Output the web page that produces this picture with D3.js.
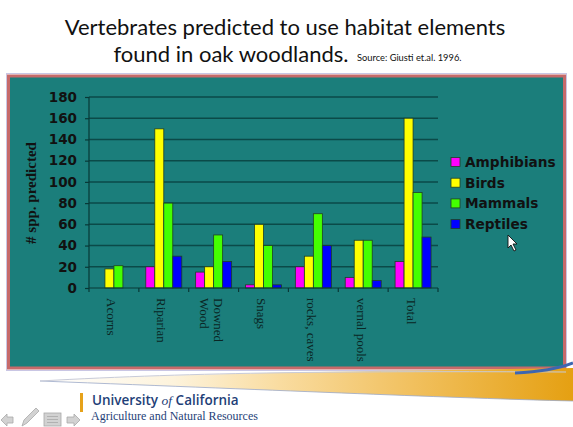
<!DOCTYPE html>
<html>
<head>
<meta charset="utf-8">
<script src="https://cdn.jsdelivr.net/npm/d3@7"></script>
<style>
  html, body { margin: 0; padding: 0; background: #fff; }
  svg { display: block; }
</style>
</head>
<body>
<div id="chart"></div>
<script>
(function(){
    var categories = ["Acorns", "Riparian", "Downed Wood", "Snags", "rocks, caves", "vernal pools", "Total"];
    var series = ["Amphibians", "Birds", "Mammals", "Reptiles"];
    var amphibians = [0, 20, 15, 3, 20, 10, 25];
    var birds = [18, 150, 20, 60, 30, 45, 160];
    var mammals = [21, 80, 50, 40, 70, 45, 90];
    var reptiles = [0, 30, 25, 3, 40, 7, 48];
    var yTicks = [0, 20, 40, 60, 80, 100, 120, 140, 160, 180];

    var colors = {
        "Amphibians": "#ff00ff",
        "Birds": "#ffff00",
        "Mammals": "#44ff00",
        "Reptiles": "#0000ff"
    };
    var values = {
        "Amphibians": amphibians,
        "Birds": birds,
        "Mammals": mammals,
        "Reptiles": reptiles
    };

    var W = 573, H = 427;
    var plot = {left: 89, right: 438, top: 97, bottom: 288};

    var svg = d3.select("#chart").append("svg")
        .attr("width", W)
        .attr("height", H);

    // slide title
    var title = svg.append("g")
        .attr("font-family", "Lato, 'Open Sans', sans-serif")
        .attr("fill", "#111");
    title.append("text")
        .attr("x", 285).attr("y", 35)
        .attr("text-anchor", "middle")
        .attr("font-size", 22)
        .text("Vertebrates predicted to use habitat elements");
    title.append("text")
        .attr("x", 231).attr("y", 62)
        .attr("text-anchor", "middle")
        .attr("font-size", 22)
        .text("found in oak woodlands.");
    title.append("text")
        .attr("x", 357).attr("y", 61)
        .attr("font-size", 9.3)
        .text("Source: Giusti et.al. 1996.");

    // chart panel
    svg.append("rect")
        .attr("x", 6.5).attr("y", 73.5)
        .attr("width", 560).attr("height", 297)
        .attr("fill", "none")
        .attr("stroke", "#c9c6e4");
    svg.append("rect")
        .attr("x", 8.5).attr("y", 76)
        .attr("width", 556).attr("height", 292)
        .attr("fill", "#1b7e7b")
        .attr("stroke", "#c66a6a")
        .attr("stroke-width", 3);

    var x = d3.scaleBand()
        .domain(categories)
        .range([plot.left, plot.right])
        .paddingInner(0)
        .paddingOuter(0);

    var xs = d3.scaleBand()
        .domain(series)
        .range([0, x.bandwidth()])
        .paddingInner(0)
        .paddingOuter(0.77);

    var y = d3.scaleLinear()
        .domain([0, 180])
        .range([plot.bottom, plot.top]);

    // gridlines
    svg.append("g")
        .selectAll("line")
        .data(yTicks.slice(1))
        .enter().append("line")
        .attr("x1", plot.left).attr("x2", plot.right)
        .attr("y1", function(d){ return y(d); })
        .attr("y2", function(d){ return y(d); })
        .attr("stroke", "#0b4a48")
        .attr("stroke-width", 1.5);

    // bars
    var group = svg.append("g").selectAll("g")
        .data(categories)
        .enter().append("g")
        .attr("transform", function(d){ return "translate(" + x(d) + ",0)"; });

    group.selectAll("rect")
        .data(function(d, i){
            return series.map(function(s){ return {key: s, value: values[s][i]}; });
        })
        .enter().append("rect")
        .filter(function(d){ return d.value > 0; })
        .attr("x", function(d){ return xs(d.key); })
        .attr("y", function(d){ return y(d.value); })
        .attr("width", xs.bandwidth())
        .attr("height", function(d){ return y(0) - y(d.value); })
        .attr("fill", function(d){ return colors[d.key]; })
        .attr("stroke", "#1f3f25")
        .attr("stroke-width", 0.8);

    // y axis
    var yAxis = d3.axisLeft(y)
        .tickValues(yTicks)
        .tickSize(4)
        .tickPadding(8);
    var yg = svg.append("g")
        .attr("transform", "translate(" + plot.left + ",0)")
        .call(yAxis);
    yg.selectAll("path, line").attr("stroke", "#083836").attr("stroke-width", 1.2);
    yg.select(".domain").attr("d", "M0," + plot.top + "V" + plot.bottom);
    yg.selectAll("text")
        .attr("font-family", "'DejaVu Sans', Verdana, sans-serif")
        .attr("font-weight", "bold")
        .attr("font-size", 13.5)
        .attr("fill", "#111");

    // x axis: ticks at category boundaries
    var xg = svg.append("g");
    xg.append("line")
        .attr("x1", plot.left).attr("x2", plot.right)
        .attr("y1", plot.bottom).attr("y2", plot.bottom)
        .attr("stroke", "#083836").attr("stroke-width", 1.2);
    xg.selectAll(".tick")
        .data(categories.concat([null]))
        .enter().append("line")
        .attr("x1", function(d){ return d === null ? plot.right : x(d); })
        .attr("x2", function(d){ return d === null ? plot.right : x(d); })
        .attr("y1", plot.bottom).attr("y2", plot.bottom + 4)
        .attr("stroke", "#083836").attr("stroke-width", 1.2);

    var labelWraps = {"Downed Wood": ["Downed", "Wood"]};
    var xl = xg.selectAll(".xlabel")
        .data(categories)
        .enter().append("text")
        .attr("transform", function(d){
            return "translate(" + (x(d) + x.bandwidth() / 2 - 2) + "," + (plot.bottom + 10) + ") rotate(90)";
        })
        .attr("font-family", "'Liberation Serif', 'Times New Roman', serif")
        .attr("font-size", 13)
        .attr("fill", "#0a2624");
    xl.each(function(d){
        var lines = labelWraps[d] || [d];
        var t = d3.select(this);
        lines.forEach(function(line, i){
            var off = (i - (lines.length - 1) / 2) * 14;
            t.append("tspan")
                .attr("x", 0)
                .attr("y", off)
                .attr("dy", "0.35em")
                .text(line);
        });
    });

    // y title
    svg.append("text")
        .attr("transform", "translate(36,193) rotate(-90)")
        .attr("text-anchor", "middle")
        .attr("font-family", "'Liberation Serif', 'Times New Roman', serif")
        .attr("font-weight", "bold")
        .attr("font-size", 15)
        .attr("fill", "#111")
        .text("# spp. predicted");

    // legend
    var legend = svg.append("g")
        .attr("transform", "translate(451,162)");
    var item = legend.selectAll("g")
        .data(series)
        .enter().append("g")
        .attr("transform", function(d, i){ return "translate(0," + (i * 20.7) + ")"; });
    item.append("rect")
        .attr("x", 0).attr("y", -4.5)
        .attr("width", 9).attr("height", 9)
        .attr("fill", function(d){ return colors[d]; })
        .attr("stroke", "#1f3f25")
        .attr("stroke-width", 0.8);
    item.append("text")
        .attr("x", 14).attr("y", 0)
        .attr("dy", "0.36em")
        .attr("font-family", "'DejaVu Sans', Verdana, sans-serif")
        .attr("font-weight", "bold")
        .attr("font-size", 13.7)
        .attr("fill", "#111")
        .text(function(d){ return d; });

    // mouse pointer
    svg.append("path")
        .attr("transform", "translate(508,235)")
        .attr("d", "M0,0 L0,13 L3,10 L6,16 L8,15 L5,9 L9,9 Z")
        .attr("fill", "#fff")
        .attr("stroke", "#111")
        .attr("stroke-width", 0.9);

    // footer swoosh
    var defs = svg.append("defs");
    var grad = defs.append("linearGradient")
        .attr("id", "swoosh")
        .attr("x1", "0%").attr("x2", "100%");
    grad.append("stop").attr("offset", "0%").attr("stop-color", "#ffffff");
    grad.append("stop").attr("offset", "25%").attr("stop-color", "#fdf3dc");
    grad.append("stop").attr("offset", "45%").attr("stop-color", "#f9dca0");
    grad.append("stop").attr("offset", "70%").attr("stop-color", "#f1c05e");
    grad.append("stop").attr("offset", "100%").attr("stop-color", "#e5a012");

    svg.append("path")
        .attr("d", "M40,381 C200,372 400,371 573,368 L573,401 C450,398 300,391 40,381 Z")
        .attr("fill", "url(#swoosh)");
    svg.append("path")
        .attr("d", "M40,381 C300,391 450,398 573,401")
        .attr("fill", "none")
        .attr("stroke", "#9aa8c8")
        .attr("stroke-width", 0.8);
    svg.append("path")
        .attr("d", "M40,381 C200,372 350,371 566,372")
        .attr("fill", "none")
        .attr("stroke", "#c8cbd8")
        .attr("stroke-width", 1);
    svg.append("path")
        .attr("d", "M515,373 C540,372 558,369 573,363")
        .attr("fill", "none")
        .attr("stroke", "#3d66b0")
        .attr("stroke-width", 3);

    // UC logo
    svg.append("rect")
        .attr("x", 80).attr("y", 393)
        .attr("width", 3).attr("height", 19)
        .attr("fill", "#e6a21a");
    var uc = svg.append("text")
        .attr("x", 92).attr("y", 405)
        .attr("font-family", "'Open Sans', sans-serif")
        .attr("font-weight", 600)
        .attr("font-size", 13.5)
        .attr("fill", "#1f3f78");
    uc.append("tspan").text("University ");
    uc.append("tspan")
        .attr("font-family", "'Liberation Serif', serif")
        .attr("font-style", "italic")
        .attr("font-weight", "normal")
        .text("of");
    uc.append("tspan").text(" California");
    svg.append("text")
        .attr("x", 91).attr("y", 420)
        .attr("font-family", "'Liberation Serif', serif")
        .attr("font-size", 12)
        .attr("fill", "#1f3f78")
        .text("Agriculture and Natural Resources");

    // slide navigation icons
    var nav = svg.append("g")
        .attr("fill", "#d2d2d2")
        .attr("stroke", "#a8a8a8")
        .attr("stroke-width", 0.8);
    nav.append("path").attr("d", "M1,420 L7,414 L7,417 L13,417 L13,423 L7,423 L7,426 Z");
    nav.append("path").attr("d", "M22,426 L24,420 L36,408 L39,411 L27,423 Z");
    nav.append("rect").attr("x", 44).attr("y", 413).attr("width", 17).attr("height", 13);
    nav.selectAll(".ln").data([416.5, 419.5, 422.5]).enter().append("line")
        .attr("x1", 47).attr("x2", 58)
        .attr("y1", function(d){ return d; }).attr("y2", function(d){ return d; })
        .attr("stroke", "#a8a8a8");
    nav.append("path").attr("d", "M80,420 L74,414 L74,417 L67,417 L67,423 L74,423 L74,426 Z");
}());
</script>
</body>
</html>
